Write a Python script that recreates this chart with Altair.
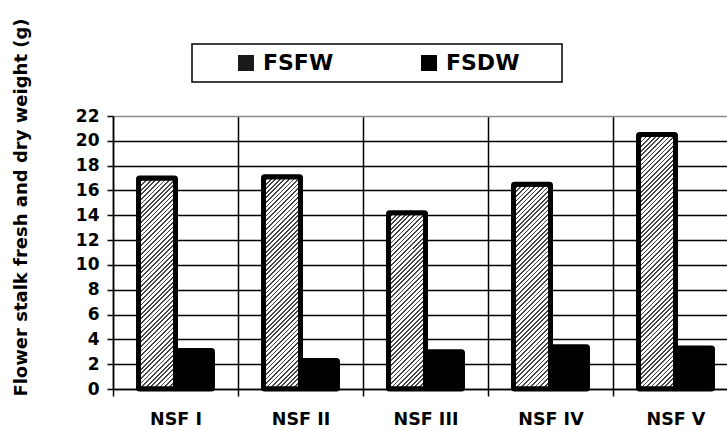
import altair as alt
import pandas as pd

categories = ["NSF I", "NSF II", "NSF III", "NSF IV", "NSF  V"]
series = ["FSFW", "FSDW"]
fsfw = [17.0, 17.1, 14.2, 16.5, 20.5]
fsdw = [3.1, 2.3, 3.0, 3.4, 3.3]
y_ticks = list(range(0, 23, 2))

rows = []
for c, a, b in zip(categories, fsfw, fsdw):
    rows.append({"cat": c, "series": "FSFW", "value": a})
    rows.append({"cat": c, "series": "FSDW", "value": b})
df = pd.DataFrame(rows)

PLOT_W, PLOT_H = 614, 273
X_RANGE = 625
Y_MAX = 22
OFF_PAD = 0.69
BAR_W = X_RANGE / len(categories) / (2 + 2 * OFF_PAD)
FONT = "DejaVu Sans"


def hatch(v):
    W = BAR_W
    H = max(v * PLOT_H / Y_MAX, 1.0)
    k = (W + H) * H / (W * W + H * H)
    n = int((W + H) / 4.6) + 1
    stops = []
    for i in range(n):
        a = i / n
        b = (i + 0.38) / n
        c = (i + 1) / n
        stops += [
            {"offset": round(a, 5), "color": "#454545"},
            {"offset": round(b, 5), "color": "#454545"},
            {"offset": round(b, 5), "color": "#ffffff"},
            {"offset": round(c, 5), "color": "#ffffff"},
        ]
    return {"gradient": "linear", "x1": 0, "y1": 0,
            "x2": round(k * W / H, 5), "y2": round(k, 5), "stops": stops}


x_enc = alt.X(
    "cat:N", sort=categories,
    scale=alt.Scale(domain=categories, range=[0, X_RANGE], paddingInner=0, paddingOuter=0),
    axis=alt.Axis(title=None, tickBand="extent", labelAngle=0, grid=True,
                  gridColor="black", gridWidth=1.5, tickColor="black", tickWidth=1.5,
                  tickSize=7, domainColor="black", domainWidth=1.5,
                  labelFont=FONT, labelFontSize=17.5, labelFontWeight="bold",
                  labelColor="black", labelPadding=14),
)
y_enc = alt.Y(
    "value:Q",
    scale=alt.Scale(domain=[0, Y_MAX], nice=False, zero=True),
    axis=alt.Axis(values=y_ticks, title="Flower stalk fresh and dry weight (g)",
                  grid=True,
                  gridColor={"condition": {"test": "datum.value == 22", "value": "#8c8c8c"},
                             "value": "black"},
                  gridWidth=1.5, tickColor="black", tickWidth=1.5, tickSize=6,
                  domainColor="black", domainWidth=1.5,
                  labelFont=FONT, labelFontSize=17, labelFontWeight="bold",
                  labelColor="black", labelPadding=8,
                  titleFont=FONT, titleFontSize=18, titleFontWeight="bold",
                  titleColor="black", titleAngle=270, titleX=-92, titleY=91,
                  titleAlign="center", titleBaseline="middle"),
)
off_enc = alt.XOffset(
    "series:N", sort=series,
    scale=alt.Scale(domain=series, paddingInner=0, paddingOuter=OFF_PAD),
)

base = alt.Chart(df).encode(x=x_enc, y=y_enc, xOffset=off_enc)

layers = []
for c, v in zip(categories, fsfw):
    layers.append(
        base.transform_filter(
            (alt.datum.cat == c) & (alt.datum.series == "FSFW")
        ).mark_bar(fill=hatch(v), stroke="black", strokeWidth=5,
                   strokeJoin="round", cornerRadius=1)
    )

layers.append(
    base.transform_filter(alt.datum.series == "FSDW").mark_bar(
        fill="black", stroke="black", strokeWidth=5, strokeJoin="round", cornerRadius=1)
)

legend_layer = base.mark_bar(opacity=0).encode(
    color=alt.Color(
        "series:N",
        scale=alt.Scale(domain=series, range=["#1a1a1a", "#000000"]),
        legend=alt.Legend(
            title=None, orient="none", legendX=79, legendY=-72,
            direction="horizontal", symbolType="square", symbolSize=256,
            symbolOpacity=1, symbolStrokeWidth=0, symbolOffset=35,
            labelFont=FONT, labelFontSize=22, labelFontWeight="bold",
            labelColor="black", labelOffset=6,
            labelExpr="datum.label == 'FSDW' ? datum.label + '\u2800\u2800' : datum.label",
            columnPadding=49, padding=8, strokeColor="black",
            fillColor="white",
        ),
    )
)
layers.append(legend_layer)

chart = alt.layer(*layers).properties(
    width=PLOT_W, height=PLOT_H,
    autosize=alt.AutoSizeParams(type="none"),
    padding={"left": 113, "top": 116, "right": 0, "bottom": 41},
    background="white",
).configure_view(strokeWidth=0).configure_legend(strokeWidth=1.5)

chart.save("out.html", embed_options={"renderer": "svg", "actions": False})
